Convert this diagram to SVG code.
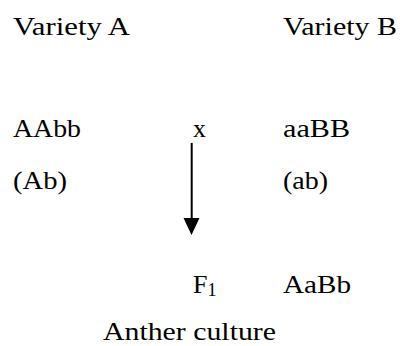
<svg xmlns="http://www.w3.org/2000/svg" width="400" height="346" viewBox="0 0 400 346">
  <style>
    text { font-family: "Liberation Serif", "Times New Roman", serif; font-size: 26px; fill: #000; }
    .sub { font-size: 18px; }
  </style>
  <rect width="400" height="346" fill="#fff"/>
  <g id="variety-a"><text x="13" y="35" textLength="117" lengthAdjust="spacingAndGlyphs">Variety A</text></g>
  <g id="variety-b"><text x="283" y="35" textLength="114" lengthAdjust="spacingAndGlyphs">Variety B</text></g>
  <g id="aabb"><text x="13" y="137" textLength="68" lengthAdjust="spacingAndGlyphs">AAbb</text></g>
  <g id="cross"><text x="193" y="137">x</text></g>
  <g id="aaBB"><text x="283" y="137" textLength="67" lengthAdjust="spacingAndGlyphs">aaBB</text></g>
  <g id="gamete-a"><text x="13" y="189" textLength="54" lengthAdjust="spacingAndGlyphs">(Ab)</text></g>
  <g id="gamete-b"><text x="283" y="189" textLength="45" lengthAdjust="spacingAndGlyphs">(ab)</text></g>
  <g id="f1"><text x="193" y="293">F<tspan class="sub" dy="3">1</tspan></text></g>
  <g id="aaBb"><text x="283" y="293" textLength="68" lengthAdjust="spacingAndGlyphs">AaBb</text></g>
  <g id="anther"><text x="103" y="340" textLength="173" lengthAdjust="spacingAndGlyphs">Anther culture</text></g>
  <g id="connectors">
    <line x1="191.7" y1="143" x2="191.7" y2="218" stroke="#000" stroke-width="2"/>
    <polygon points="183.5,218 199.5,218 191.5,235" fill="#000"/>
  </g>
</svg>
